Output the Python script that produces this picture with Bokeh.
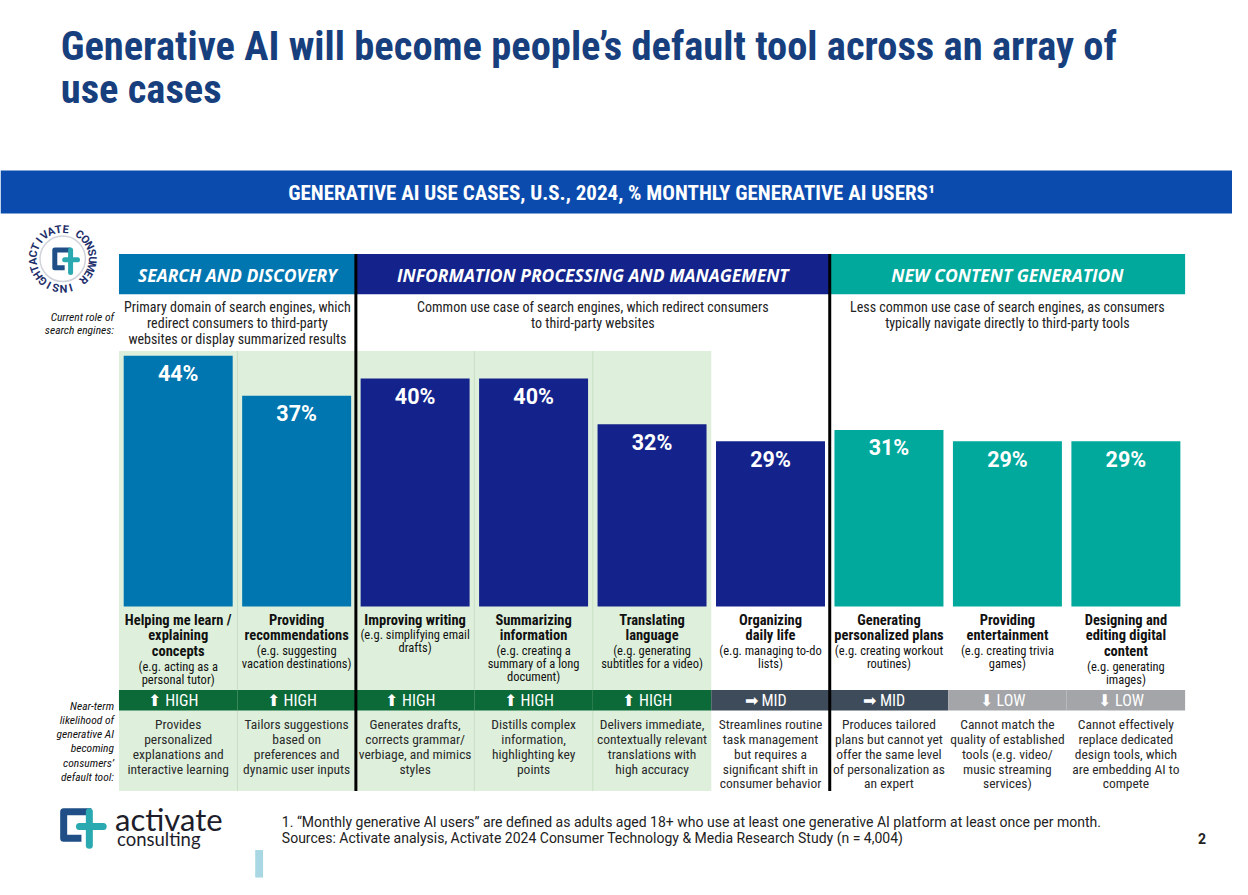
import numpy as np
from bokeh.plotting import figure
from bokeh.models import Range1d, ColumnDataSource
from bokeh.core.properties import value
from bokeh.embed import file_html
from bokeh.resources import INLINE

# ---------------- data ----------------
title_lines = ["Generative AI will become people\u2019s default tool across an array of", "use cases"]
banner = "GENERATIVE AI USE CASES, U.S., 2024, % MONTHLY GENERATIVE AI USERS\u00b9"

group_names = ["SEARCH AND DISCOVERY", "INFORMATION PROCESSING AND MANAGEMENT", "NEW CONTENT GENERATION"]
group_first = [0, 2, 6]
group_last = [1, 5, 8]
group_roles = [
    ["Primary domain of search engines, which", "redirect consumers to third-party", "websites or display summarized results"],
    ["Common use case of search engines, which redirect consumers", "to third-party websites"],
    ["Less common use case of search engines, as consumers", "typically navigate directly to third-party tools"],
]

titles = [
    ["Helping me learn /", "explaining", "concepts"],
    ["Providing", "recommendations"],
    ["Improving writing"],
    ["Summarizing", "information"],
    ["Translating", "language"],
    ["Organizing", "daily life"],
    ["Generating", "personalized plans"],
    ["Providing", "entertainment"],
    ["Designing and", "editing digital", "content"],
]
examples = [
    ["(e.g. acting as a", "personal tutor)"],
    ["(e.g. suggesting", "vacation destinations)"],
    ["(e.g. simplifying email", "drafts)"],
    ["(e.g. creating a", "summary of a long", "document)"],
    ["(e.g. generating", "subtitles for a video)"],
    ["(e.g. managing to-do", "lists)"],
    ["(e.g. creating workout", "routines)"],
    ["(e.g. creating trivia", "games)"],
    ["(e.g. generating", "images)"],
]
values = [44, 37, 40, 40, 32, 29, 31, 29, 29]
group_of = [0, 0, 1, 1, 1, 1, 2, 2, 2]
likelihood = ["HIGH", "HIGH", "HIGH", "HIGH", "HIGH", "MID", "MID", "LOW", "LOW"]
rationale = [
    ["Provides", "personalized", "explanations and", "interactive learning"],
    ["Tailors suggestions", "based on", "preferences and", "dynamic user inputs"],
    ["Generates drafts,", "corrects grammar/", "verbiage, and mimics", "styles"],
    ["Distills complex", "information,", "highlighting key", "points"],
    ["Delivers immediate,", "contextually relevant", "translations with", "high accuracy"],
    ["Streamlines routine", "task management", "but requires a", "significant shift in", "consumer behavior"],
    ["Produces tailored", "plans but cannot yet", "offer the same level", "of personalization as", "an expert"],
    ["Cannot match the", "quality of established", "tools (e.g. video/", "music streaming", "services)"],
    ["Cannot effectively", "replace dedicated", "design tools, which", "are embedding AI to", "compete"],
]
role_label = ["Current role of", "search engines:"]
likely_label = ["Near-term", "likelihood of", "generative AI", "becoming", "consumers\u2019", "default tool:"]
footnotes = [
    "1. \u201cMonthly generative AI users\u201d are defined as adults aged 18+ who use at least one generative AI platform at least once per month.",
    "Sources: Activate analysis, Activate 2024 Consumer Technology & Media Research Study (n = 4,004)",
]
seal_text = "ACTIVATE CONSUMER INSIGHT"

# ---------------- style ----------------
COND = value("Roboto Condensed")
ROBOTO = value("Roboto")
OPEN = value("Open Sans")
GROUP_COLORS = ["#0076b1", "#14238b", "#00a99c"]
LIKE_COLORS = {"HIGH": "#0b6a37", "MID": "#3e4b5b", "LOW": "#a3a5a8"}
ARROWS = {"HIGH": "\u2b06 HIGH", "MID": "\u27a1 MID", "LOW": "\u2b07 LOW"}
GREEN_BG = "#def0dc"

W, H = 1232, 879
RW, RH = 1248, 895   # reference pixel space
p = figure(width=W, height=H, x_range=Range1d(0, RW), y_range=Range1d(RH, 0),
           x_axis_type=None, y_axis_type=None, toolbar_location=None,
           output_backend="svg", min_border=0, outline_line_color=None)
p.grid.visible = False
p.background_fill_color = "white"

# column scale (index -> pixel center 180 + 120*i) and percentage scale (0% at y=617, 5.8px per %)
p.extra_x_ranges = {"col": Range1d((0 - 180) / 120, (RW - 180) / 120)}
p.extra_y_ranges = {"pct": Range1d((617 - RH) / 5.8, 617 / 5.8)}

n = len(values)
idx = np.arange(n)


def lines(xs, ys, texts, size, color="#1a1a1a", weight="normal", font=COND, align="center",
          xr="default", baseline="middle"):
    src = ColumnDataSource(dict(x=xs, y=ys, t=texts))
    return p.text(x="x", y="y", text="t", source=src, text_font=font, text_font_size=f"{size}px",
                  text_font_style=weight, text_color=color, text_align=align, text_baseline=baseline,
                  x_range_name=xr)


# ---- title
lines([61, 61], [46, 90], title_lines, 40.5, color="#173f7e", weight="bold", align="left",
      baseline="alphabetic")

# ---- banner
p.quad(left=0, right=RW, top=173, bottom=217, fill_color="#0b4bae", line_color=None)
lines([619], [196], [banner], 21, color="white", weight="bold")

# ---- light green background for high-likelihood columns
p.quad(left=[-0.5], right=[4.5], top=[357], bottom=[805], fill_color=GREEN_BG, line_color=None,
       x_range_name="col")
p.segment(x0=[0.5, 2.5, 3.5], x1=[0.5, 2.5, 3.5], y0=357, y1=805, line_color="#c8dfc4",
          line_width=1, x_range_name="col")

# ---- group headers
gl = [f - 0.5 for f in group_first]
gr = [l + 0.5 for l in group_last]
p.quad(left=gl, right=gr, top=258, bottom=299, fill_color=GROUP_COLORS, line_color=None,
       x_range_name="col")
gc = [(a + b) / 2 for a, b in zip(gl, gr)]
lines(gc, [279] * 3, group_names, 17.5, color="white", weight="bold italic", font=OPEN, xr="col")
for g, rl in enumerate(group_roles):
    lines([gc[g]] * len(rl), [312 + 16.5 * k for k in range(len(rl))], rl, 14, color="#222",
          xr="col")

# ---- bars
colors = [GROUP_COLORS[g] for g in group_of]
bsrc = ColumnDataSource(dict(x=idx, top=values, color=colors,
                             label=[f"{v}%" for v in values]))
p.vbar(x="x", top="top", bottom=0, width=0.92, fill_color="color", line_color=None, source=bsrc,
       x_range_name="col", y_range_name="pct")
p.text(x="x", y="top", text="label", source=bsrc, x_range_name="col", y_range_name="pct",
       y_offset=18, text_align="center", text_baseline="middle", text_color="white",
       text_font=ROBOTO, text_font_style="bold", text_font_size="21.5px")

# ---- category labels
tx, ty, tt, ex, ey, et = [], [], [], [], [], []
for i in range(n):
    for k, s in enumerate(titles[i]):
        tx.append(i); ty.append(631 + 16 * k); tt.append(s)
    y0 = 631 + 16 * len(titles[i]) - 1
    for k, s in enumerate(examples[i]):
        ex.append(i); ey.append(y0 + 13 * k); et.append(s)
lines(tx, ty, tt, 14.5, color="#111", weight="bold", xr="col")
lines(ex, ey, et, 12.5, color="#111", xr="col")

# ---- likelihood strip
p.quad(left=idx - 0.5, right=idx + 0.5, top=702, bottom=723,
       fill_color=[LIKE_COLORS[l] for l in likelihood], line_color=None, x_range_name="col")
lines(list(idx - 0.04), [713] * n, [ARROWS[l] for l in likelihood], 16, color="white", xr="col")

# ---- rationale
rx, ry, rt = [], [], []
for i in range(n):
    for k, s in enumerate(rationale[i]):
        rx.append(i); ry.append(737 + 15 * k); rt.append(s)
lines(rx, ry, rt, 13.5, color="#2a2a2a", xr="col")

# ---- group separators
p.segment(x0=[1.5, 5.5], x1=[1.5, 5.5], y0=258, y1=805, line_color="black", line_width=3,
          x_range_name="col")

# ---- left side labels
lines([115] * 2, [322, 335], role_label, 11.5, color="#111", weight="italic", align="right")
lines([115] * 6, [718 + 14.5 * k for k in range(6)], likely_label, 11.5, color="#111",
      weight="italic", align="right")

# ---- seal (top-left)
cx, cy, r = 63, 263, 30
ang = np.deg2rad(-95 + 14.4 * np.arange(len(seal_text)))
sx = cx + r * np.sin(ang)
sy = cy - r * np.cos(ang)
ssrc = ColumnDataSource(dict(x=list(sx), y=list(sy), t=list(seal_text), a=list(-ang)))
p.text(x="x", y="y", text="t", angle="a", source=ssrc, text_font=ROBOTO, text_font_style="bold",
       text_font_size="11px", text_color="#1e2f6b", text_align="center", text_baseline="middle")
p.circle(x=[cx], y=[cy], radius=23, fill_color=None, line_color="#d0d3da", line_width=1.5)
p.multi_line(xs=[[71, 55, 55, 65]], ys=[[254, 254, 272, 272]], line_color="#1f4f86",
             line_width=5, line_join="round")
p.multi_line(xs=[[71, 71], [65, 78]], ys=[[254, 277], [264, 264]], line_color="#2aa9b0",
             line_width=5, line_cap="round")

# ---- footer logo
p.multi_line(xs=[[92, 64, 64, 82]], ys=[[826, 826, 853, 853]], line_color="#1f4f86",
             line_width=7, line_join="round")
p.multi_line(xs=[[90, 90], [80, 104]], ys=[[826, 860], [841, 841]], line_color="#2aa9b0",
             line_width=7, line_cap="round")
lines([116], [833], ["activate"], 31, color="#1d1d2b", font=value("Lato"), align="left")
lines([118], [854], ["consulting"], 18.5, color="#1d1d2b", font=value("Lato"), align="left")
p.quad(left=258, right=266, top=865, bottom=893, fill_color="#a9d7e3", line_color=None)

# ---- footnotes
lines([285, 285], [836, 853], footnotes, 14, color="#222", align="left", font=ROBOTO)
lines([1213], [853], ["2"], 14, color="#222", weight="bold", align="left", font=ROBOTO)

open("out.html", "w").write(file_html(p, INLINE))
